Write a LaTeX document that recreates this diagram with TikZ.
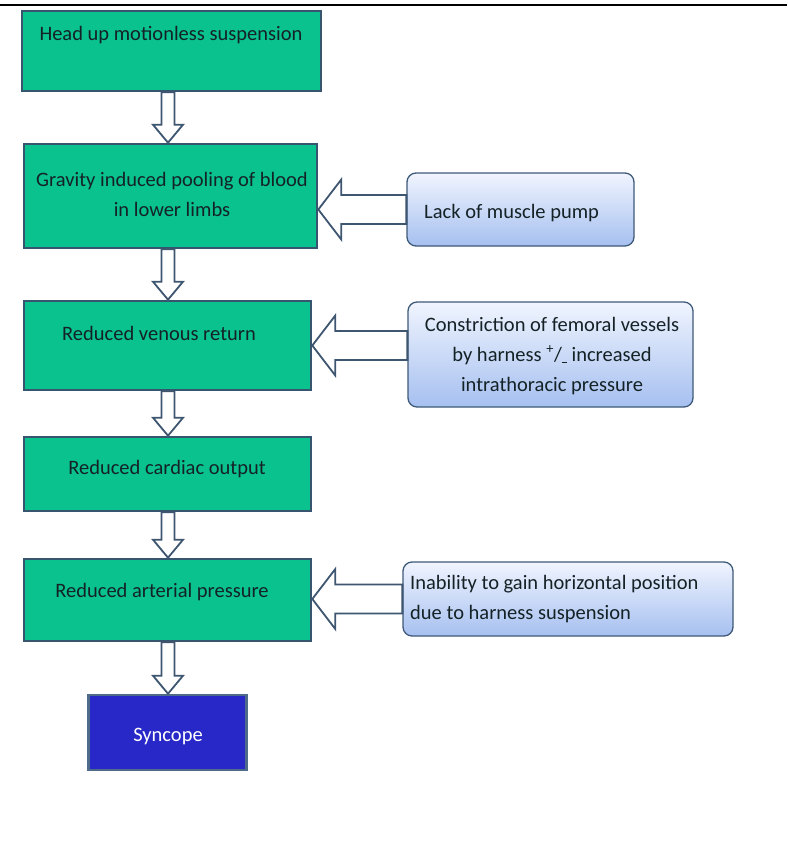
\documentclass[tikz,border=0pt]{standalone}
\usepackage{fontspec}
\setmainfont{Carlito}
\usetikzlibrary{calc}
\definecolor{boxgreen}{RGB}{10,194,142}
\definecolor{edgeteal}{RGB}{55,85,111}
\definecolor{arrowedge}{RGB}{62,86,112}
\definecolor{bluetop}{RGB}{240,244,254}
\definecolor{bluebot}{RGB}{166,192,240}
\definecolor{blueedge}{RGB}{63,90,120}
\definecolor{syncfill}{RGB}{40,40,200}
\definecolor{syncedge}{RGB}{79,107,138}
\definecolor{txtdark}{RGB}{20,34,38}
\tikzset{
  greenbox/.style={draw=edgeteal, fill=boxgreen, line width=2.6pt, inner sep=0pt},
  bluebox/.style={draw=blueedge, line width=1.3pt, rounded corners=9pt, top color=bluetop, bottom color=bluebot, inner sep=0pt},
  syncbox/.style={draw=syncedge, fill=syncfill, line width=2.6pt, inner sep=0pt},
  lbl/.style={font=\fontsize{20.5}{30}\selectfont, text=txtdark, inner sep=0pt},
  blk/.style={draw=arrowedge, fill=white, line width=1.8pt, line join=miter},
}
\newcommand\downblock[2]{%
  \draw[blk] let \p1=(#1), \p2=(#2) in
    (\x2-6.5pt,\y1) -- (\x2-6.5pt,\y2+18pt) -- (\x2-15pt,\y2+18pt) -- (\x2,\y2)
    -- (\x2+15pt,\y2+18pt) -- (\x2+6.5pt,\y2+18pt) -- (\x2+6.5pt,\y1) -- cycle;}
\newcommand\leftblock[2]{%
  \draw[blk] let \p1=(#1), \p2=(#2) in
    (\x1,\y2+14.5pt) -- (\x2+23pt,\y2+14.5pt) -- (\x2+23pt,\y2+30pt) -- (\x2,\y2)
    -- (\x2+23pt,\y2-30pt) -- (\x2+23pt,\y2-14.5pt) -- (\x1,\y2-14.5pt) -- cycle;}
\begin{document}
\begin{tikzpicture}[x=1pt,y=-1pt]
\fill[white] (0,0) rectangle (787,843);
\useasboundingbox (0,0) rectangle (787,843);
% top rule
\draw[line width=2pt] (0,5) -- (787,5);
% green boxes
\node[greenbox, minimum width=299pt, minimum height=80pt] (b1) at (171.5,51) {};
\node[greenbox, minimum width=293pt, minimum height=104pt] (b2) at (170.5,196) {};
\node[greenbox, minimum width=287pt, minimum height=89pt] (b3) at (167.5,345.5) {};
\node[greenbox, minimum width=287pt, minimum height=74pt] (b4) at (167.5,474) {};
\node[greenbox, minimum width=287pt, minimum height=82pt] (b5) at (167.5,600) {};
\node[syncbox, minimum width=158pt, minimum height=75pt] (b6) at (167.5,732.5) {};
% side boxes
\node[bluebox, minimum width=227pt, minimum height=73pt] (s1) at (520.5,209.5) {};
\node[bluebox, minimum width=285pt, minimum height=105pt] (s2) at (550.5,354.5) {};
\node[bluebox, minimum width=330pt, minimum height=74pt] (s3) at (568,599) {};
% labels
\node[lbl] (t1) at (171,35) {Head up motionless suspension};
\node[lbl, align=center] (t2) at (172,194) {Gravity induced pooling of blood\\in lower limbs};
\node[lbl] (t3) at (159,333) {Reduced venous return};
\node[lbl] (t4) at (167,469) {Reduced cardiac output};
\node[lbl] (t5) at (162,592) {Reduced arterial pressure};
\node[lbl, text=white] (t6) at (168,736) {Syncope};
\node[lbl, anchor=west] (u1) at (424,213) {Lack of muscle pump};
\node[lbl, align=center] (u2) at (552,356) {Constriction of femoral vessels\\by harness \textsuperscript{+}/\raisebox{-2pt}{\rule{5pt}{1.2pt}} increased\\intrathoracic pressure};
\node[lbl, align=left, anchor=west] (u3) at (410,599) {Inability to gain horizontal position\\due to harness suspension};
% arrow column
\coordinate (ax) at (168,0);
\downblock{b1.south}{b2.north -| ax}
\downblock{b2.south}{b3.north -| ax}
\downblock{b3.south}{b4.north -| ax}
\downblock{b4.south}{b5.north -| ax}
\downblock{b5.south}{b6.north -| ax}
% side arrows
\leftblock{s1.west}{b2.east |- s1.west}
\leftblock{s2.west}{b3.east}
\leftblock{s3.west}{b5.east |- s3.west}
\end{tikzpicture}
\end{document}
